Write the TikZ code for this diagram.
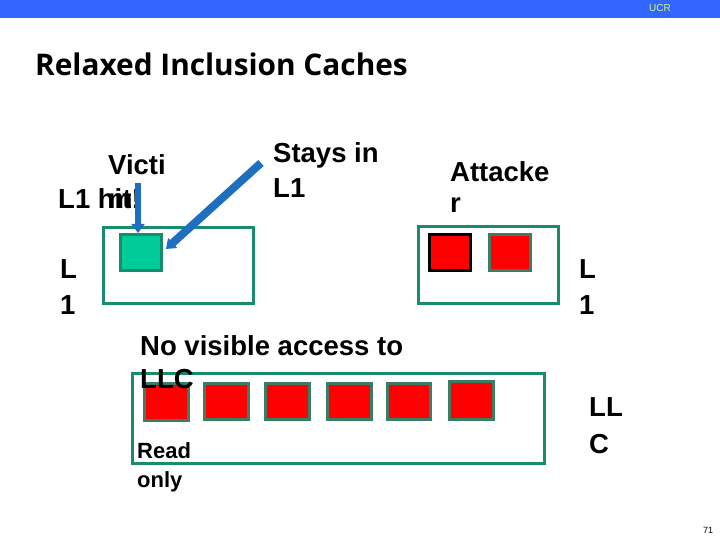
\documentclass[tikz,border=0pt]{standalone}
\usepackage{fontspec}
\setmainfont{Liberation Sans}
\newfontfamily\titlefont{Open Sans}
\usetikzlibrary{arrows.meta}
\definecolor{barblue}{HTML}{3366FF}
\definecolor{ucrtext}{HTML}{CCFF66}
\definecolor{boxgreen}{HTML}{1A8C6E}
\definecolor{victimgreen}{HTML}{00CC99}
\definecolor{sqborder}{HTML}{3A7D64}
\definecolor{arrowblue}{HTML}{1F6FBF}
\tikzset{
  cachebox/.style={draw=boxgreen, line width=3pt, inner sep=0pt, anchor=north west},
  redsq/.style={draw=sqborder, fill=red, line width=2.5pt, inner sep=0pt, anchor=north west, minimum width=41pt, minimum height=36pt},
  lbl/.style={font=\bfseries\fontsize{27.5}{33}\selectfont, inner sep=0pt, anchor=base west},
  smalllbl/.style={font=\bfseries\fontsize{22}{26}\selectfont, inner sep=0pt, anchor=base west},
  bluearrow/.style={draw=arrowblue, -{Triangle[width=13pt,length=9pt]}}
}
\begin{document}
\begin{tikzpicture}[x=1pt,y=-1pt]
\useasboundingbox (0,0) rectangle (720,540);
% top bar
\fill[barblue] (0,0) rectangle (720,18);
\node[font=\fontsize{10}{12}\selectfont, text=ucrtext, inner sep=0pt] (ucr) at (660,8) {UCR};
% title
\node[font=\titlefont\bfseries\fontsize{29.8}{34}\selectfont, inner sep=0pt, anchor=base west] (title) at (35,76) {Relaxed Inclusion Caches};
% left L1
\node[cachebox, minimum width=150pt, minimum height=76pt] (l1left) at (102,226) {};
\node[draw=boxgreen, fill=victimgreen, line width=2.5pt, inner sep=0pt, anchor=north west, minimum width=41pt, minimum height=36pt] (victimsq) at (119,233) {};
\node[lbl] (victi) at (108,175) {Victi};
\node[lbl] (l1hit) at (58,208) {L1 hit!};
\node[lbl] (m) at (108,208) {m!};
\node[lbl] (stays1) at (273,163) {Stays in};
\node[lbl] (stays2) at (273,197) {L1};
\node[lbl] (lleft1) at (60,278) {L};
\node[lbl] (lleft2) at (60,314) {1};
\coordinate (varrowstart) at (138,183);
\coordinate (darrowstart) at (261,163);
\draw[bluearrow, line width=6pt] (varrowstart) -- (victimsq.north -| varrowstart);
\draw[bluearrow, line width=8pt] (darrowstart) -- (166,249);
% right L1
\node[cachebox, minimum width=140pt, minimum height=77pt] (l1right) at (417,225) {};
\node[redsq, draw=black] (attsq1) at (428,233) {};
\node[redsq] (attsq2) at (488,233) {};
\node[lbl] (att1) at (450,182) {Attacke};
\node[lbl] (att2) at (450,213) {r};
\node[lbl] (lright1) at (579,278) {L};
\node[lbl] (lright2) at (579,314) {1};
% LLC
\node[cachebox, minimum width=412pt, minimum height=90pt] (llc) at (131,372) {};
\node[redsq, minimum width=44pt, minimum height=37pt] (s1) at (143,382) {};
\node[redsq, minimum width=44pt, minimum height=36pt] (s2) at (203,382) {};
\node[redsq, minimum width=44pt, minimum height=36pt] (s3) at (264,382) {};
\node[redsq, minimum width=44pt, minimum height=36pt] (s4) at (326,382) {};
\node[redsq, minimum width=43pt, minimum height=36pt] (s5) at (386,382) {};
\node[redsq, minimum width=44pt, minimum height=38pt] (s6) at (448,380) {};
\node[lbl] (nova1) at (140,355) {No visible access to};
\node[lbl] (nova2) at (140,388) {LLC};
\node[smalllbl] (ro1) at (137,458) {Read};
\node[smalllbl] (ro2) at (137,487) {only};
\node[lbl] (llc1) at (589,416) {LL};
\node[lbl] (llc2) at (589,453) {C};
\node[font=\fontsize{9}{11}\selectfont, inner sep=0pt] (pagenum) at (708,530) {71};
\end{tikzpicture}
\end{document}
